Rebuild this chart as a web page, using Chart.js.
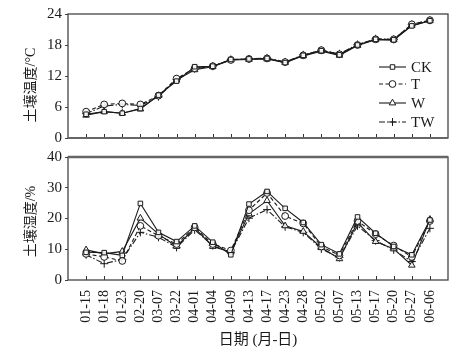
<!DOCTYPE html>
<html><head><meta charset="utf-8">
<script src="https://cdn.jsdelivr.net/npm/chart.js@4/dist/chart.umd.min.js"></script>
<style>
html,body{margin:0;padding:0;background:#fff;}
#wrap{position:relative;width:473px;height:355px;overflow:hidden;}
#c1{position:absolute;left:0;top:0;}
#c2{position:absolute;left:0;top:145px;}
</style></head><body>
<div id="wrap">
<canvas id="c1" width="473" height="150"></canvas>
<canvas id="c2" width="473" height="210"></canvas>
</div>
<script>
const dates = ['01-15','01-18','01-23','02-20','03-07','03-22','04-01','04-04','04-09','04-13','04-17','04-23','04-28','05-02','05-07','05-13','05-17','05-20','05-27','06-06'];
const seriesNames = ['CK','T','W','TW'];
const tempCK = [4.6,5.1,4.8,5.7,8.3,11.0,13.8,13.9,15.2,15.3,15.4,14.6,16.0,16.9,16.1,18.0,19.1,19.0,21.7,22.7];
const tempT  = [5.1,6.5,6.7,6.5,8.2,11.5,13.5,13.9,15.1,15.3,15.4,14.7,16.0,17.0,16.2,18.0,19.1,19.1,22.0,22.8];
const tempW  = [4.4,5.1,4.8,5.6,8.2,11.2,13.2,13.8,15.1,15.2,15.3,14.6,15.9,16.8,16.0,17.9,19.0,19.0,21.8,22.7];
const tempTW = [4.7,6.2,6.5,6.3,8.0,11.3,13.4,13.9,15.2,15.3,15.5,14.7,16.1,17.0,16.3,18.1,19.2,19.1,22.0,22.8];
const humCK = [9.0,8.9,8.0,24.9,15.5,12.5,17.6,12.3,8.2,24.7,28.8,23.3,18.7,11.5,8.5,20.5,15.2,10.9,8.2,19.5];
const humT  = [8.5,7.5,6.2,17.6,14.4,11.7,17.1,11.7,9.6,22.7,28.3,20.8,18.4,10.9,8.0,19.2,14.9,11.2,7.5,19.2];
const humW  = [9.8,8.5,9.3,20.1,14.9,10.9,16.9,10.9,9.1,21.5,25.8,17.6,15.8,10.5,6.9,18.7,12.5,10.1,4.8,19.7];
const humTW = [8.2,5.3,6.7,15.5,13.9,10.6,16.3,11.2,9.0,20.1,22.9,17.3,15.5,10.1,7.3,17.6,12.8,9.8,6.0,16.8];
const tempTicks = [0,6,12,18,24];
const humTicks = [0,10,20,30,40];
const tempTitle = '土壤温度/°C';
const humTitle = '土壤湿度/%';
const xTitle = '日期 (月-日)';

const SERIF = "'Liberation Serif','Noto Sans CJK SC',serif";
const INK = '#1a1a1a';
const styles = [
  {pointStyle:'rect', dash:[], radius:3.2},
  {pointStyle:'circle', dash:[4,2.5], radius:3.4},
  {pointStyle:'triangle', dash:[], radius:3.8},
  {pointStyle:'cross', dash:[6,2,1.5,2], radius:4}
];

function makeDatasets(arrs){
  return arrs.map((arr,k)=>({
    label: seriesNames[k],
    data: arr.map((v,i)=>({x:i+1,y:v})),
    borderColor: INK,
    backgroundColor: '#fff',
    borderWidth: 1.1,
    borderDash: styles[k].dash,
    pointStyle: styles[k].pointStyle,
    pointRadius: styles[k].radius,
    pointBorderColor: INK,
    pointBackgroundColor: 'rgba(255,255,255,0.9)',
    pointBorderWidth: 1,
    tension: 0
  }));
}

const framePlugin = {
  id:'frame',
  afterDraw(chart, args, opts){
    const ctx = chart.ctx, a = chart.chartArea;
    const xs = chart.scales.x;
    ctx.save();
    // inside x tick marks
    ctx.strokeStyle = '#333'; ctx.lineWidth = 1;
    dates.forEach((d,i)=>{
      const px = Math.round(xs.getPixelForValue(i+1))+0.5;
      ctx.beginPath(); ctx.moveTo(px,a.bottom); ctx.lineTo(px,a.bottom-4); ctx.stroke();
    });
    // box
    ctx.strokeStyle = '#444'; ctx.lineWidth = 1.3;
    ctx.strokeRect(a.left, a.top, a.right-a.left, a.bottom-a.top);
    if (opts.thickTop){
      ctx.strokeStyle = '#666'; ctx.lineWidth = 2.5;
      ctx.beginPath(); ctx.moveTo(a.left,a.top); ctx.lineTo(a.right,a.top); ctx.stroke();
    }
    if (opts.thickBottom){
      ctx.strokeStyle = '#666'; ctx.lineWidth = 2;
      ctx.beginPath(); ctx.moveTo(a.left,a.bottom); ctx.lineTo(a.right,a.bottom); ctx.stroke();
    }
    // y title
    ctx.fillStyle = INK;
    ctx.font = '14px ' + SERIF;
    ctx.translate(opts.titleX, opts.titleY);
    ctx.rotate(-Math.PI/2);
    ctx.textAlign = 'center'; ctx.textBaseline = 'middle';
    ctx.fillText(opts.title, 0, 0);
    ctx.restore();
  }
};

const legendPlugin = {
  id:'customLegend',
  afterDraw(chart, args, opts){
    if (!opts.show) return;
    const ctx = chart.ctx;
    const rows = [67,84,103,122];
    chart.data.datasets.forEach((ds,k)=>{
      const y = rows[k];
      ctx.save();
      ctx.strokeStyle = INK; ctx.lineWidth = 1.1;
      ctx.setLineDash(styles[k].dash);
      ctx.beginPath(); ctx.moveTo(379,y); ctx.lineTo(406,y); ctx.stroke();
      ctx.setLineDash([]);
      ctx.fillStyle = '#fff'; ctx.lineWidth = 1;
      Chart.helpers.drawPoint(ctx, {pointStyle: styles[k].pointStyle, radius: styles[k].radius, rotation:0, borderWidth:1}, 392.5, y);
      ctx.fillStyle = INK;
      ctx.font = '15px ' + SERIF;
      ctx.textAlign = 'left'; ctx.textBaseline = 'middle';
      ctx.fillText(ds.label, 411, y+1);
      ctx.restore();
    });
  }
};

function xScale(showLabels, height){
  return {
    type:'linear', min:0, max:21,
    afterBuildTicks(s){ s.ticks = dates.map((d,i)=>({value:i+1})); },
    afterFit(s){ s.height = height; },
    grid:{display:false, drawTicks:false},
    border:{display:false},
    ticks:{
      display: showLabels, autoSkip:false, minRotation:90, maxRotation:90, padding:10,
      color: INK, font:{family:SERIF, size:14},
      callback:(v)=> dates[v-1] || ''
    },
    title: showLabels ? {display:true, text:xTitle, color:INK, font:{family:SERIF, size:15}, padding:{top:0,bottom:6}} : {display:false}
  };
}
function yScale(ticks){
  return {
    type:'linear', min:ticks[0], max:ticks[ticks.length-1],
    afterBuildTicks(s){ s.ticks = ticks.map(v=>({value:v})); },
    afterFit(s){ s.width = 68; },
    grid:{drawOnChartArea:false, drawTicks:true, tickLength:3, color:'#444'},
    border:{display:false},
    ticks:{padding:3, color:INK, font:{family:SERIF, size:15}}
  };
}

Chart.defaults.animation = false;
new Chart(document.getElementById('c1'), {
  type:'line',
  data:{datasets: makeDatasets([tempCK,tempT,tempW,tempTW])},
  options:{
    responsive:false, animation:false,
    layout:{padding:{top:14,right:25,left:0,bottom:0}},
    scales:{ x: xScale(false, 11), y: yScale(tempTicks) },
    plugins:{ legend:{display:false}, tooltip:{enabled:false},
      frame:{title:tempTitle, titleX:31, titleY:85, thickBottom:true},
      customLegend:{show:true} }
  },
  plugins:[framePlugin, legendPlugin]
});
new Chart(document.getElementById('c2'), {
  type:'line',
  data:{datasets: makeDatasets([humCK,humT,humW,humTW])},
  options:{
    responsive:false, animation:false,
    layout:{padding:{top:10,right:25,left:0,bottom:0}},
    scales:{ x: xScale(true, 75), y: yScale(humTicks) },
    plugins:{ legend:{display:false}, tooltip:{enabled:false},
      frame:{title:humTitle, titleX:31, titleY:76.5, thickTop:true},
      customLegend:{show:false} }
  },
  plugins:[framePlugin, legendPlugin]
});
</script>
</body></html>
